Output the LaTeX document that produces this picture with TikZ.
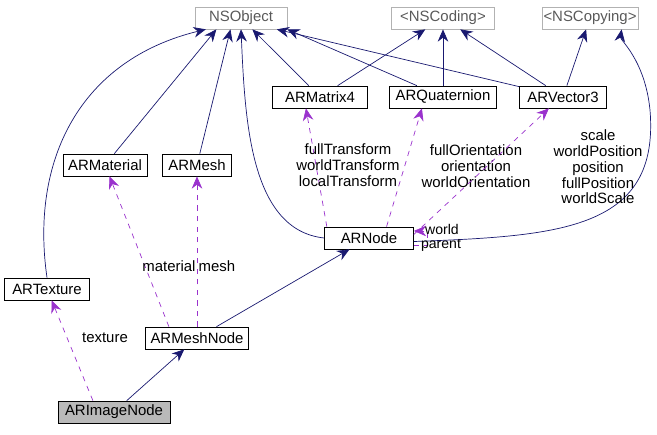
\documentclass[tikz,border=0pt]{standalone}
\usepackage{fontspec}
\setmainfont{Liberation Sans}
\usetikzlibrary{positioning,arrows.meta}
\definecolor{navy}{RGB}{25,25,112}
\definecolor{lilac}{RGB}{154,50,205}
\begin{document}
\begin{tikzpicture}[x=0.02cm, y=-0.02cm, font=\fontsize{8.5}{9.5}\selectfont,
    cls/.style={rectangle, draw, inner sep=0pt, minimum height=0.44cm, align=center},
    ext/.style={cls, draw=gray!60, text=gray!70!black},
    inherit/.style={navy, -{Stealth[length=7pt,width=6pt]}},
    uses/.style={lilac, dashed, -{Stealth[length=7pt,width=6pt]}},
    lbl/.style={align=center, inner sep=0pt, text=black, font=\fontsize{8.5}{9}\selectfont}]
    \useasboundingbox (0,0) rectangle (657,435);

    % External classes
    \node[ext, minimum width=1.84cm] (nsobject) at (241,18) {NSObject};
    \node[ext, minimum width=2.06cm] (nscoding) at (443,18) {<NSCoding>};
    \node[ext, minimum width=1.92cm] (nscopying) at (590,18) {<NSCopying>};

    % Value classes
    \node[cls, minimum width=1.9cm] (matrix) at (320,97) {ARMatrix4};
    \node[cls, minimum width=2.14cm] (quat) at (443,97) {ARQuaternion};
    \node[cls, minimum width=1.74cm] (vector) at (563,97) {ARVector3};

    % Scene classes
    \node[cls, minimum width=1.68cm] (material) at (105,165) {ARMaterial};
    \node[cls, minimum width=1.38cm] (mesh) at (197,165) {ARMesh};
    \node[cls, minimum width=1.78cm] (arnode) at (369,238) {ARNode};
    \node[cls, minimum width=1.7cm] (texture) at (47,289) {ARTexture};
    \node[cls, minimum width=2.06cm] (meshnode) at (197,338) {ARMeshNode};
    \node[cls, minimum width=2.24cm, fill=gray!55] (imagenode) at (114,412) {ARImageNode};

    % Inheritance
    \draw[inherit] (matrix) -- (nsobject);
    \draw[inherit] (matrix) -- (nscoding);
    \draw[inherit] (quat) -- (nsobject.south east);
    \draw[inherit] (quat) -- (nscoding);
    \draw[inherit] (vector) -- ([xshift=-6pt]nsobject.south east);
    \draw[inherit] (vector) -- (nscoding);
    \draw[inherit] (vector) -- (nscopying);
    \draw[inherit] (material) -- ([xshift=-14pt]nsobject.south);
    \draw[inherit] (mesh) -- ([xshift=-6pt]nsobject.south);
    \draw[inherit] (texture.north) .. controls (30,160) and (80,60) .. ([xshift=-20pt]nsobject.south);
    \draw[inherit] (arnode.west) .. controls (250,230) and (245,120) .. (nsobject.south);
    \draw[inherit] ([yshift=-2pt]arnode.east) .. controls (560,236) and (660,230) .. (650,110)
        .. controls (645,60) and (620,40) .. ([xshift=18pt]nscopying.south);
    \draw[inherit] (meshnode) -- (arnode);
    \draw[inherit] (imagenode) -- (meshnode);

    % Members
    \draw[uses] ([xshift=-24pt]arnode.north) -- ([xshift=-8pt]matrix.south);
    \node[lbl] (matrixlbl) at (348,165) {fullTransform\\worldTransform\\localTransform};
    \draw[uses] ([xshift=10pt]arnode.north) -- ([xshift=-12pt]quat.south);
    \node[lbl] (quatlbl) at (476,166) {fullOrientation\\orientation\\worldOrientation};
    \draw[uses] ([yshift=2pt]arnode.east) -- ([xshift=-8pt]vector.south);
    \node[lbl] (vectorlbl) at (598,167) {scale\\worldPosition\\position\\fullPosition\\worldScale};
    \draw[uses] ([yshift=-4pt]arnode.east) -- ++(14,0) |- ([yshift=4pt]arnode.east);
    \node[lbl, font=\fontsize{8}{8}\selectfont] (world) at (442,229) {world};
    \node[lbl, font=\fontsize{8}{8}\selectfont] (parent) at (441,245) {parent};
    \draw[uses] ([xshift=-16pt]meshnode.north) -- (material);
    \node[lbl] (materiallbl) at (169,266) {material};
    \draw[uses] (meshnode) -- (mesh);
    \node[lbl] (meshlbl) at (217,266) {mesh};
    \draw[uses] ([xshift=-12pt]imagenode.north) -- (texture);
    \node[lbl] (texturelbl) at (105,338) {texture};
\end{tikzpicture}
\end{document}
